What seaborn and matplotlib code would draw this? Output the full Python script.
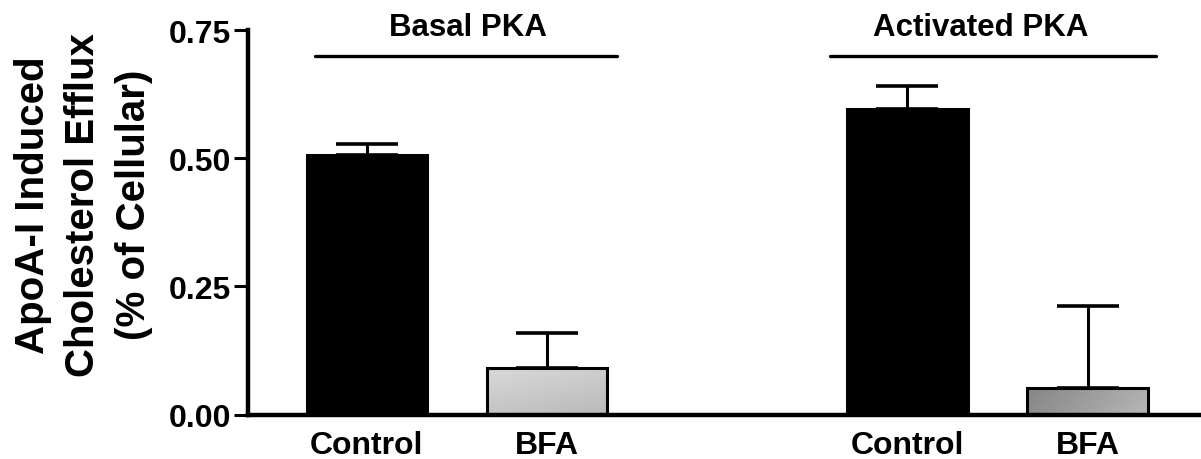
import numpy as np
import pandas as pd
import seaborn as sns
import matplotlib
matplotlib.use("Agg")
import matplotlib.pyplot as plt
from matplotlib.colors import LinearSegmentedColormap

# values
groups = ["Basal PKA", "Basal PKA", "Activated PKA", "Activated PKA"]
conditions = ["Control", "BFA", "Control", "BFA"]
efflux = [0.506, 0.091, 0.596, 0.052]
sem = [0.022, 0.068, 0.045, 0.160]

sns.set_theme(style="ticks")
plt.rcParams['font.family'] = ['Liberation Sans', 'DejaVu Sans']
plt.rcParams['font.weight'] = 'bold'
plt.rcParams['text.color'] = 'black'
plt.rcParams['axes.labelcolor'] = 'black'
plt.rcParams['xtick.color'] = 'black'
plt.rcParams['ytick.color'] = 'black'
plt.rcParams['axes.edgecolor'] = 'black'

group_names = ["Basal PKA", "Activated PKA"]
xpos = [group_names.index(g) * 3 + (0 if c == "Control" else 1) for g, c in zip(groups, conditions)]
data = pd.DataFrame({"x": xpos, "efflux": efflux, "cond": conditions, "group": groups})

fig = plt.figure(figsize=(12.01, 4.6), dpi=100)
ax = fig.add_axes([0.2065, 0.0967, 0.7935, 0.8359])

sns.barplot(data=data, x="x", y="efflux", native_scale=True, width=0.67,
            color="black", edgecolor="black", linewidth=2.2, errorbar=None, ax=ax, zorder=3)

ax.errorbar(xpos, efflux, yerr=[np.zeros(len(sem)), sem], fmt="none", ecolor="black",
            elinewidth=2.2, capsize=22, capthick=2.6, zorder=2)

# gradient fills for the BFA bars
grads = {"Basal PKA": ("#d9d9d9", "#b9b9b9"), "Activated PKA": ("#868686", "#b6b6b6")}
gx, gy = np.meshgrid(np.linspace(0, 1, 100), np.linspace(0, 1, 50))
for patch, g, c in zip(ax.patches, groups, conditions):
    if c != "BFA":
        continue
    cmap = LinearSegmentedColormap.from_list(g, grads[g])
    if g == "Basal PKA":
        z = 0.35 * gx + 0.65 * gy
    else:
        z = 0.85 * gx + 0.15 * gy
    x0, y0 = patch.get_x(), patch.get_y()
    w, h = patch.get_width(), patch.get_height()
    im = ax.imshow(z, cmap=cmap, extent=[x0, x0 + w, y0, y0 + h], aspect="auto",
                   origin="upper", zorder=2.5)
    im.set_clip_path(patch)
    patch.set_facecolor("none")

ax.set_xlim(-0.66, 4.63)
ax.set_ylim(0, 0.75)
ax.set_yticks([0, 0.25, 0.5, 0.75])
ax.set_yticklabels(["0.00", "0.25", "0.50", "0.75"])
ax.set_xticks(xpos)
ax.set_xticklabels(conditions)
ax.tick_params(axis="x", length=0, pad=11, labelsize=23)
ax.tick_params(axis="y", length=10, width=2.2, pad=2, labelsize=23)
for lab in ax.get_xticklabels() + ax.get_yticklabels():
    lab.set_fontweight("bold")

sns.despine(ax=ax, top=True, right=True)
ax.spines["left"].set_linewidth(3.2)
ax.spines["bottom"].set_linewidth(3.2)
ax.set_xlabel("")
ax.set_ylabel("ApoA-I Induced\nCholesterol Efflux\n(% of Cellular)", fontsize=29,
              fontweight="bold", linespacing=1.42)
ax.yaxis.set_label_coords(-0.1, 0.547)

# group brackets
spans = {"Basal PKA": (-0.29, 1.39, 0.56), "Activated PKA": (2.57, 4.38, 3.41)}
for g, (a, b, tx) in spans.items():
    ax.plot([a, b], [0.699, 0.699], color="black", lw=2.4, clip_on=False, solid_capstyle="round")
    ax.text(tx, 0.755, g, ha="center", va="center", fontsize=22.5, fontweight="bold", clip_on=False)

fig.savefig("out.png", dpi=100)
